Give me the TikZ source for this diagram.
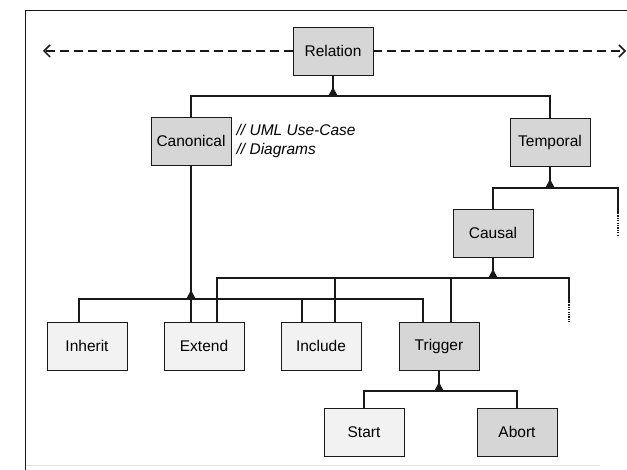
\documentclass[tikz,border=0pt]{standalone}
\usepackage{fontspec}
\setmainfont{Liberation Sans}
\usepackage{tikz}
\usetikzlibrary{arrows.meta}
\usetikzlibrary{positioning}
\definecolor{mgray}{rgb}{0.84, 0.84, 0.84}
\definecolor{mlight}{rgb}{0.95, 0.95, 0.95}
\definecolor{mline}{rgb}{0.1, 0.1, 0.1}
\tikzset{box/.style = {draw=mline, line width=0.9pt, minimum width=80pt, minimum height=48pt,
                       inner sep=0pt, font=\fontsize{15.5}{19}\selectfont}}
\tikzset{gbox/.style = {box, fill=mgray}}
\tikzset{lbox/.style = {box, fill=mlight}}
\tikzset{note/.style = {inner sep=0pt, align=left, font=\fontsize{15.5}{19}\selectfont\itshape}}
\tikzset{link/.style = {line width=1.8pt, mline}}
\tikzset{stem/.style = {link, -{Triangle[reversed, width=9pt, length=9pt]}}}
\tikzset{more/.style = {link, dash pattern=on 1.2pt off 1.2pt}}
\tikzset{span/.style = {line width=1.8pt, mline, dash pattern=on 9pt off 5pt,
                        -{Straight Barb[length=6pt, width=12pt, line width=1.5pt]}}}

\begin{document}
\begin{tikzpicture}[x=1pt, y=-1pt]
      \useasboundingbox (0, 0) rectangle (627, 470);
      \draw [line width=1pt, mline] (627, 10.5) -- (25.5, 10.5) -- (25.5, 470);
      \draw [line width=1pt, black!12] (25.5, 465) -- (600, 465);

      \node [gbox] (Relation) at (333, 51) {Relation};
      \node [gbox] (Canonical) at (191, 141) {Canonical};
      \node [gbox] (Temporal) at (550, 142) {Temporal};
      \node [gbox] (Causal) at (493, 233) {Causal};
      \foreach \x/\name in {87/Inherit, 204/Extend, 321/Include} {
        \node [lbox] (\name) at (\x, 346) {\name};
      }
      \node [gbox] (Trigger) at (439, 346) {Trigger};
      \node [lbox] (Start) at (364, 432) {Start};
      \node [gbox] (Abort) at (517, 432) {Abort};
      \node [note, right=5pt of Canonical] (uml) {// UML Use-Case\\// Diagrams};

      \coordinate (lEnd) at (43, 51);
      \coordinate (rEnd) at (626, 51);
      \coordinate (jRel) at (333, 96);
      \coordinate (jCan) at (191, 299);
      \coordinate (jTem) at (550, 188);
      \coordinate (jCau) at (493, 278);
      \coordinate (jTri) at (439, 391);
      \coordinate (tMoreA) at (618, 213);
      \coordinate (tMoreB) at (618, 237);
      \coordinate (cMoreA) at (569, 302);
      \coordinate (cMoreB) at (569, 322);

      \draw [span] (Relation) -- (lEnd);
      \draw [span] (Relation) -- (rEnd);

      \draw [link] (Canonical) |- (jRel) -| (Temporal);
      \draw [stem] (Relation) -- (jRel);

      \draw [link] (Causal) |- (jTem) -| (tMoreA);
      \draw [more] (tMoreA) -- (tMoreB);
      \draw [stem] (Temporal) -- (jTem);

      \draw [link] ([xshift=-8pt]Inherit.north) |- (jCan) -| ([xshift=-16pt]Trigger.north);
      \draw [link] ([xshift=-19pt]Include.north) -- ([xshift=-19pt]Include.north |- jCan);
      \draw [link] (jCan) -- ([xshift=-13pt]Extend.north);
      \draw [stem] (Canonical) -- (jCan);

      \draw [link] ([xshift=13pt]Extend.north) |- (jCau) -| (cMoreA);
      \draw [more] (cMoreA) -- (cMoreB);
      \draw [link] ([xshift=14pt]Include.north) -- ([xshift=14pt]Include.north |- jCau);
      \draw [link] ([xshift=12pt]Trigger.north) -- ([xshift=12pt]Trigger.north |- jCau);
      \draw [stem] (Causal) -- (jCau);

      \draw [link] (Start) |- (jTri) -| (Abort);
      \draw [stem] (Trigger) -- (jTri);
    \end{tikzpicture}
\end{document}
